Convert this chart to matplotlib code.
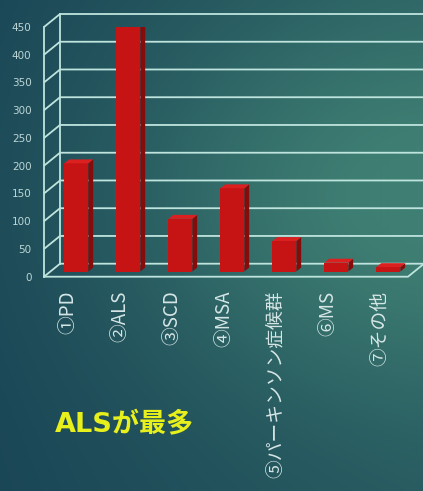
import numpy as np
import matplotlib
matplotlib.use("Agg")
import matplotlib.pyplot as plt
from matplotlib.patches import Polygon
from matplotlib.colors import to_rgb

# ---- data ----
categories = ["①PD", "②ALS", "③SCD", "④MSA", "⑤パーキンソン症候群", "⑥MS", "⑦その他"]
counts = [195, 443, 95, 150, 55, 16, 8]
y_ticks = [0, 50, 100, 150, 200, 250, 300, 350, 400, 450]
y_tick_labels = [str(t) for t in y_ticks]
note_text = "ALSが最多"

W, H = 423, 491
fig = plt.figure(figsize=(W / 100, H / 100), dpi=100)

# ---- background gradient ----
bg = fig.add_axes([0, 0, 1, 1], zorder=-10)
yy, xx = np.mgrid[0:H, 0:W]
dark = np.array(to_rgb("#1a4656"))
light = np.array(to_rgb("#3f7f73"))
t = 0.3 * (xx / W) + 0.75 * np.exp(-(((xx - 0.95 * W) / (0.7 * W)) ** 2
                                     + ((yy - 0.4 * H) / (0.42 * H)) ** 2))
t = np.clip(t, 0, 1)[..., None]
img = dark * (1 - t) + light * t
bg.imshow(img, aspect="auto", extent=[0, 1, 0, 1], origin="upper")
bg.set_axis_off()

# ---- main axes (front plane of the pseudo-3D chart) ----
x_left, x_right = 44, 408
y_zero, y_top = 276.7, 27.0
ax = fig.add_axes([x_left / W, (H - y_zero) / H,
                   (x_right - x_left) / W, (y_zero - y_top) / H])
n = len(categories)
ax.set_xlim(0, n)
ax.set_ylim(0, 450)
ax.patch.set_alpha(0)
for s in ax.spines.values():
    s.set_visible(False)

# wall depth in data units
DX = 16 / ((x_right - x_left) / n)
DY = 13 / ((y_zero - y_top) / 450)

grid_c = "#bfe4de"
glw = 1.3
for v in y_ticks:
    # left wall slant + back wall horizontal
    ax.plot([0, DX, n + DX], [v, v + DY, v + DY], color=grid_c, lw=glw,
            clip_on=False, solid_capstyle="butt", zorder=1)
# left wall verticals
ax.plot([0, 0], [0, 450], color=grid_c, lw=glw, clip_on=False, zorder=1)
ax.plot([DX, DX], [DY, 450 + DY], color=grid_c, lw=glw, clip_on=False, zorder=1)
# floor outline
ax.plot([0, n, n + DX], [0, 0, DY], color=grid_c, lw=glw, clip_on=False, zorder=1)

# ---- bars ----
f = 0.4          # depth of bar front face within the wall depth
d = 0.3          # bar depth as a fraction of the wall depth
bw = 0.46
xc = np.arange(n) + 0.5 + f * DX
base = f * DY
ax.bar(xc, counts, width=bw, bottom=base, color="#c61414", edgecolor="none",
       zorder=3)
sdx, sdy = d * DX, d * DY
for x, v in zip(xc, counts):
    xl, xr = x - bw / 2, x + bw / 2
    top = base + v
    side = Polygon([(xr, base), (xr + sdx, base + sdy), (xr + sdx, top + sdy),
                    (xr, top)], closed=True, facecolor="#860b0b",
                   edgecolor="none", zorder=3)
    lid = Polygon([(xl, top), (xr, top), (xr + sdx, top + sdy),
                   (xl + sdx, top + sdy)], closed=True, facecolor="#dc2020",
                  edgecolor="none", zorder=3)
    ax.add_patch(side)
    ax.add_patch(lid)

# ---- ticks ----
ax.set_yticks(y_ticks)
ax.set_yticklabels(y_tick_labels, fontsize=7.5, color="#bcd6d6",
                   family="DejaVu Sans")
ax.tick_params(axis="y", length=0, pad=9)
ax.set_xticks(np.arange(n) + 0.5 - 0.05)
ax.set_xticklabels(categories, rotation=90, fontsize=13.5, color="#d6e6e6",
                   family=["Noto Sans CJK JP", "DejaVu Sans"], va="top")
ax.tick_params(axis="x", length=0, pad=10)

# ---- annotation ----
fig.text(55 / W, 1 - 425 / H, note_text, fontsize=19.5, fontweight="bold",
         color="#e8f01c", va="center", ha="left",
         family=["DejaVu Sans", "Noto Sans CJK JP"])

fig.savefig("out.png", dpi=100)
